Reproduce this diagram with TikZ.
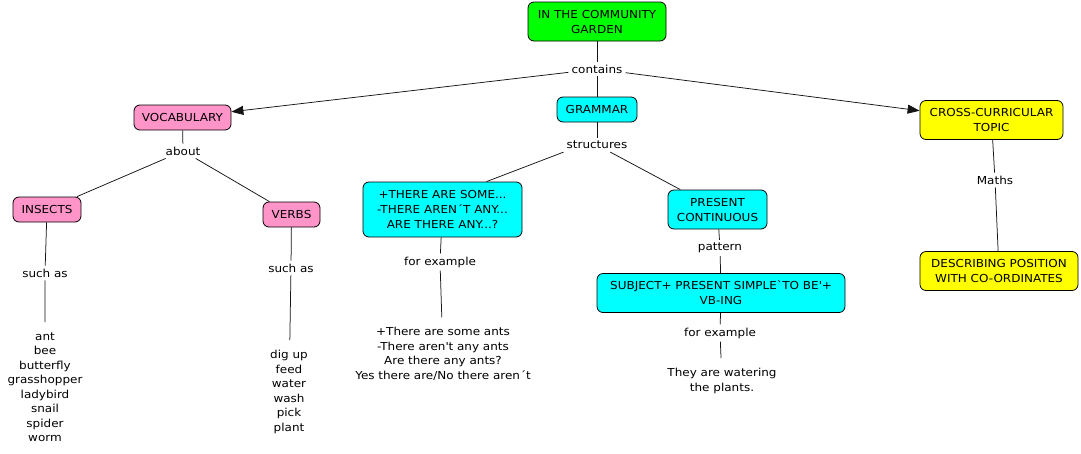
\documentclass[tikz,border=0pt]{standalone}
\usepackage{fontspec}
\setmainfont{DejaVu Sans}[FakeStretch=1.09]
\usetikzlibrary{arrows.meta}
\definecolor{cgreen}{RGB}{0,255,0}
\definecolor{ccyan}{RGB}{0,255,255}
\definecolor{cpink}{RGB}{255,148,200}
\definecolor{cyellow}{RGB}{255,255,0}
\definecolor{lineclr}{RGB}{20,20,20}
\tikzset{
  concept/.style={draw=black, rounded corners=6pt, line width=0.8pt, align=center,
    inner xsep=4pt, inner ysep=2pt},
  one/.style={minimum height=25pt},
  two/.style={minimum height=39pt},
  three/.style={minimum height=55pt},
  link/.style={inner sep=3pt, align=center},
  plain/.style={align=center, inner xsep=4pt, inner ysep=10pt, font=\fontsize{11}{14.5}\selectfont},
  conn/.style={line width=0.75pt, draw=lineclr},
  arr/.style={conn, -{Triangle[length=12pt,width=9pt]}},
}
\begin{document}
\begin{tikzpicture}[x=1pt,y=-1pt, font=\fontsize{11}{15}\selectfont]
\useasboundingbox[fill=white] (0,0) rectangle (1081,453);
% concepts
\node[concept, two, fill=cgreen, minimum width=138pt] (garden) at (597,21.5) {IN THE COMMUNITY\\GARDEN};
\node[concept, one, fill=ccyan, minimum width=80pt] (grammar) at (597,109.5) {GRAMMAR};
\node[concept, one, fill=cpink, minimum width=97pt] (vocab) at (182.5,117.5) {VOCABULARY};
\node[concept, two, fill=cyellow, minimum width=143pt] (cross) at (991.5,120) {CROSS-CURRICULAR\\TOPIC};
\node[concept, two, fill=cyellow, minimum width=158pt] (describing) at (999,271) {DESCRIBING POSITION\\WITH CO-ORDINATES};
\node[concept, one, fill=cpink, minimum width=68pt] (insects) at (47,209.5) {INSECTS};
\node[concept, one, fill=cpink, minimum width=57pt] (verbs) at (291.5,214.5) {VERBS};
\node[concept, three, fill=ccyan, minimum width=159pt] (there) at (442.5,209.5) {+THERE ARE SOME...\\-THERE AREN\textasciiacute T ANY...\\ARE THERE ANY...?};
\node[concept, two, fill=ccyan, minimum width=99pt] (presc) at (717.5,209.5) {PRESENT\\CONTINUOUS};
\node[concept, two, fill=ccyan, minimum width=248pt] (subject) at (721,293) {SUBJECT+ PRESENT SIMPLE\textasciigrave TO BE\textquotesingle+\\VB-ING};
% linking phrases
\node[link] (contains) at (597,69) {contains};
\node[link] (structures) at (597,145) {structures};
\node[link] (about) at (183,151) {about};
\node[link] (maths) at (995,180) {Maths};
\node[link] (suchasL) at (45,273) {such as};
\node[link] (suchasR) at (291,268) {such as};
\node[link] (forexL) at (440,262) {for example};
\node[link] (pattern) at (720,248) {pattern};
\node[link] (forexR) at (720,333) {for example};
% plain texts
\node[plain] (insectlist) at (45,387) {ant\\bee\\butterfly\\grasshopper\\ladybird\\snail\\spider\\worm};
\node[plain] (verblist) at (289,392) {dig up\\feed\\water\\wash\\pick\\plant};
\node[plain] (examples) at (443,354) {+There are some ants\\-There aren\textquotesingle t any ants\\Are there any ants?\\Yes there are/No there aren\textasciiacute t};
\node[plain] (watering) at (722,381) {They are watering\\the plants.};
% connectors
\draw[conn] (garden) -- (contains);
\draw[arr] (contains) -- (vocab);
\draw[conn] (contains) -- (grammar);
\draw[arr] (contains) -- (cross);
\draw[conn] (grammar) -- (structures);
\draw[conn] (structures.south west) -- ([xshift=44pt]there.north);
\draw[conn] (structures) -- (presc);
\draw[conn] (vocab) -- (about);
\draw[conn] (about) -- (insects);
\draw[conn] (about) -- (verbs);
\draw[conn] (insects) -- (suchasL) -- (insectlist);
\draw[conn] (verbs) -- (suchasR) -- (verblist);
\draw[conn] (there) -- (forexL) -- (examples);
\draw[conn] (presc) -- (pattern) -- (subject);
\draw[conn] (subject) -- (forexR) -- (watering);
\draw[conn] (cross) -- (maths) -- (describing);
\end{tikzpicture}
\end{document}
